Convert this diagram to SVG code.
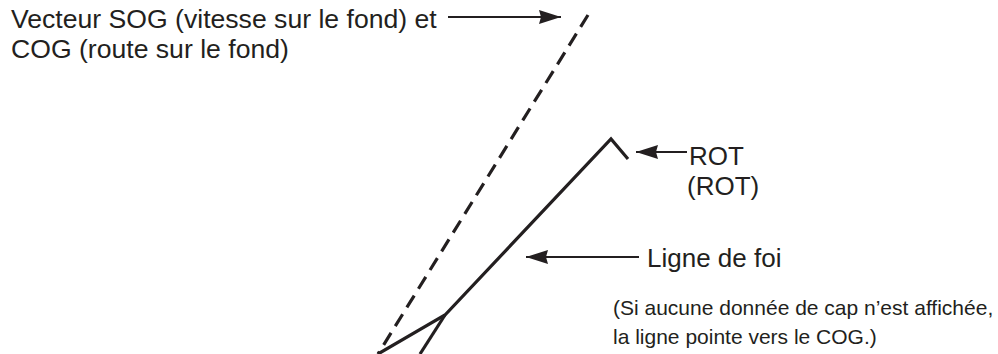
<svg xmlns="http://www.w3.org/2000/svg" width="998" height="354" viewBox="0 0 998 354">
<style>
.t{font-family:"Liberation Sans",Arial,Helvetica,sans-serif;fill:#231f20}
.big{font-size:26.6px}
.mid{font-size:26px}
.small{font-size:21px}
.ln{stroke:#231f20;stroke-width:3.2;fill:none}
.ar{stroke:#231f20;stroke-width:2.2;fill:none}
</style>
<defs>
<marker id="ah" viewBox="0 0 22 14" refX="22" refY="7" markerWidth="22" markerHeight="14" markerUnits="userSpaceOnUse" orient="auto">
<path d="M0,0 L22,7 L0,14 L2,7 Z" fill="#231f20"/>
</marker>
</defs>
<g id="sog-vector">
<line class="ln" x1="588" y1="15" x2="378" y2="354" stroke-dasharray="14 8"/>
</g>
<g id="heading-line">
<polyline class="ln" points="378,354 445,315 611,139 628,159"/>
<line class="ln" x1="445" y1="315" x2="420" y2="354"/>
</g>
<g id="connectors">
<line class="ar" x1="448" y1="17" x2="561" y2="17" marker-end="url(#ah)"/>
<line class="ar" x1="687" y1="152" x2="636" y2="152" marker-end="url(#ah)"/>
<line class="ar" x1="639" y1="257" x2="526" y2="257" marker-end="url(#ah)"/>
</g>
<g id="label-sog">
<text class="t big" x="11" y="28">Vecteur SOG (vitesse sur le fond) et</text>
<text class="t big" x="11" y="58">COG (route sur le fond)</text>
</g>
<g id="label-rot">
<text class="t mid" x="689" y="165">ROT</text>
<text class="t mid" x="687" y="195">(ROT)</text>
</g>
<g id="label-heading">
<text class="t mid" x="647" y="267">Ligne de foi</text>
<text class="t small" x="613" y="315">(Si aucune donnée de cap n’est affichée,</text>
<text class="t small" x="613" y="344">la ligne pointe vers le COG.)</text>
</g>
</svg>
